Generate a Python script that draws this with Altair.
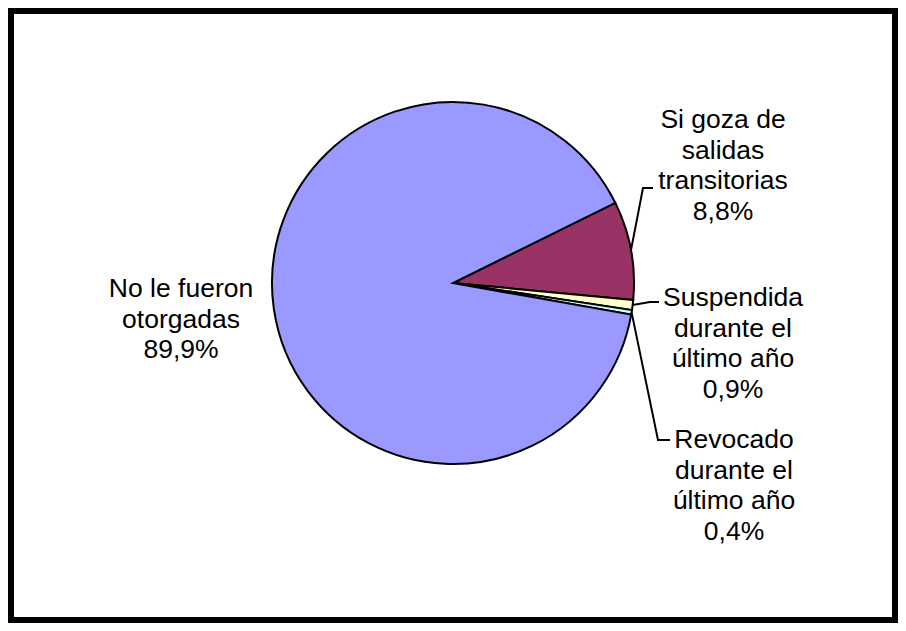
import math
import altair as alt
import pandas as pd

# ---- data ----
categories = ["Si goza de salidas transitorias", "Suspendida durante el último año",
              "Revocado durante el último año", "No le fueron otorgadas"]
label_lines = ["Si goza de\nsalidas\ntransitorias", "Suspendida\ndurante el\núltimo año",
               "Revocado\ndurante el\núltimo año", "No le fueron\notorgadas"]
values = [8.8, 0.9, 0.4, 89.9]
colors = ["#993366", "#FFFFCC", "#CCFFFF", "#9999FF"]

# ---- layout ----
W, H = 884, 609
CX, CY, R = 442, 272, 181
START = math.radians(63.7)
label_pos = [(712, 109), (722, 287), (723, 429), (170, 278)]
leader_elbow = [((632, 177), (642, 177)), ((639, 291), (648, 291)), ((647, 429), (659, 429)), None]

df = pd.DataFrame({
    "cat": categories,
    "value": values,
    "order": list(range(len(values))),
})

total = sum(values)
cum = 0.0
line_rows = []
for i, v in enumerate(values):
    mid = START + 2 * math.pi * (cum + v / 2) / total
    cum += v
    if leader_elbow[i] is None:
        continue
    sx, sy = CX + R * math.sin(mid), CY - R * math.cos(mid)
    pts = [(sx, sy), leader_elbow[i][0], leader_elbow[i][1]]
    for j, (px, py) in enumerate(pts):
        line_rows.append({"g": i, "seq": j, "x": px, "y": py})
lines_df = pd.DataFrame(line_rows)

labels_df = pd.DataFrame({
    "text": [f"{n}\n{str(v).replace('.', ',')}%" for n, v in zip(label_lines, values)],
    "x": [p[0] for p in label_pos],
    "y": [p[1] for p in label_pos],
})

xs = alt.Scale(domain=[0, W], range=[0, W], nice=False, zero=False)
ys = alt.Scale(domain=[0, H], range=[0, H], nice=False, zero=False)

pie = alt.Chart(df).mark_arc(radius=R, stroke="black", strokeWidth=2).encode(
    theta=alt.Theta("value:Q", stack=True, scale=alt.Scale(range=[START, START + 2 * math.pi])),
    order=alt.Order("order:Q"),
    color=alt.Color("cat:N", scale=alt.Scale(domain=categories, range=colors), legend=None),
    x=alt.value(CX),
    y=alt.value(CY),
)

leaders = alt.Chart(lines_df).mark_line(color="black", strokeWidth=2).encode(
    x=alt.X("x:Q", scale=xs, axis=None),
    y=alt.Y("y:Q", scale=ys, axis=None),
    detail="g:N",
    order="seq:Q",
)

texts = alt.Chart(labels_df).mark_text(
    font="Liberation Sans", fontSize=26.5, lineBreak="\n", lineHeight=30.5,
    align="center", baseline="middle", color="black",
).encode(
    x=alt.X("x:Q", scale=xs, axis=None),
    y=alt.Y("y:Q", scale=ys, axis=None),
    text="text:N",
)

chart = alt.layer(pie, leaders, texts).resolve_scale(theta="independent").properties(
    width=W, height=H, padding=3, autosize=alt.AutoSizeParams(type="none"),
    background="white",
).configure_view(stroke="black", strokeWidth=6)

chart.save("out.html", embed_options={"renderer": "svg", "actions": False})
